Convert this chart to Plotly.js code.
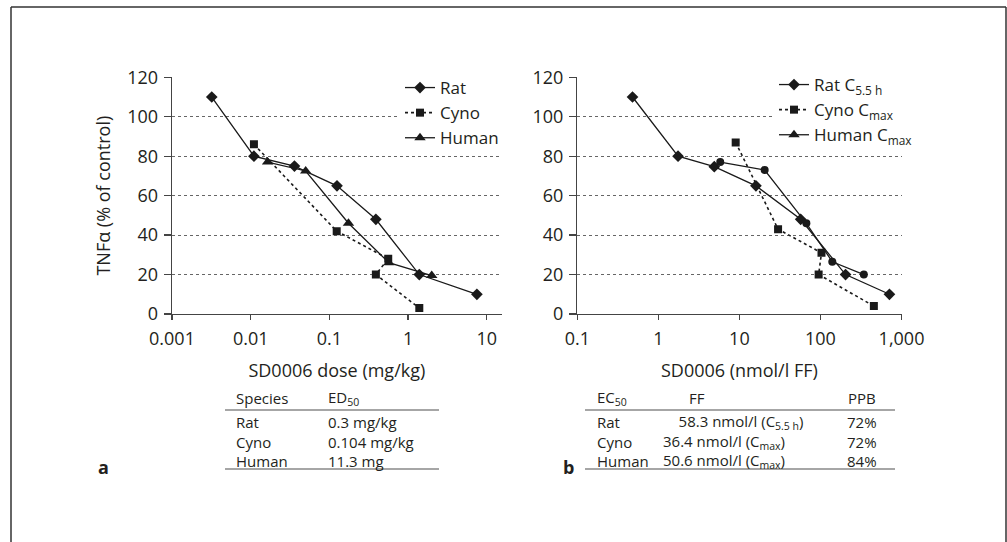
<!DOCTYPE html>
<html>
<head>
<meta charset="utf-8">
<script src="https://cdn.plot.ly/plotly-3.0.1.min.js"></script>
<style>html,body{margin:0;padding:0;background:#fff;}#chart{width:1007px;height:542px;}</style>
</head>
<body>
<div id="chart"></div>
<script>
// ---- Panel a data: TNFα (% of control) vs SD0006 dose (mg/kg)
var ratDoseA   = [0.0032, 0.011, 0.036, 0.125, 0.39, 1.39, 7.5];
var ratTnfA    = [110, 80, 75, 65, 48, 20, 10];
var cynoDoseA  = [0.011, 0.124, 0.56, 0.39, 1.39];
var cynoTnfA   = [86, 42, 28, 20, 3];
var humanDoseA = [0.0164, 0.05, 0.175, 0.57, 2.0];
var humanTnfA  = [77, 72.5, 46, 26, 19.5];

// ---- Panel b data: TNFα (% of control) vs SD0006 (nmol/l FF)
var ratConcB   = [0.48, 1.75, 4.9, 16, 57, 204, 710];
var ratTnfB    = [110, 80, 74.7, 65, 48, 20, 10];
var cynoConcB  = [9, 30, 103, 95, 456];
var cynoTnfB   = [87, 43, 31, 20, 4];
var humanConcB = [5.8, 20.5, 67, 140, 343];
var humanTnfB  = [77, 73, 46, 26.5, 20];

// ---- Tick labels
var tickValsA = [0.001, 0.01, 0.1, 1, 10];
var tickTextA = ['0.001', '0.01', '0.1', '1', '10'];
var tickValsB = [0.1, 1, 10, 100, 1000];
var tickTextB = ['0.1', '1', '10', '100', '1,000'];

// ---- Legend names
var namesA = ['Rat', 'Cyno', 'Human'];
var namesB = ['Rat C<sub>5.5 h</sub>', 'Cyno C<sub>max</sub>', 'Human C<sub>max</sub>'];

// ---- Tables
var tableAHeader = ['Species', 'ED<sub>50</sub>'];
var tableASpecies = ['Rat', 'Cyno', 'Human'];
var tableAED50 = ['0.3 mg/kg', '0.104 mg/kg', '11.3 mg'];
var tableBHeader = ['EC<sub>50</sub>', 'FF', 'PPB'];
var tableBSpecies = ['Rat', 'Cyno', 'Human'];
var tableBFF = ['&nbsp;&nbsp;&nbsp;&nbsp;58.3 nmol/l (C<sub>5.5 h</sub>)', '36.4 nmol/l (C<sub>max</sub>)', '50.6 nmol/l (C<sub>max</sub>)'];
var tableBPPB = ['72%', '72%', '84%'];

var W = 1007, H = 542;
function px(x){ return x / W; }
function py(y){ return 1 - y / H; }

var INK = '#231f20';
var FONT = 'Open Sans';
var FS = 18;
var lineCol = '#1a1a1a';

function tr(x, y, name, sym, size, dash, xa, ya, leg, showleg){
  return {
    x: x, y: y, name: name, type: 'scatter', mode: 'lines+markers',
    xaxis: xa, yaxis: ya, legend: leg,
    showlegend: showleg,
    line: {color: lineCol, width: dash === 'dot' ? 1.6 : 1.3, dash: dash},
    marker: {symbol: sym, size: size, color: lineCol}
  };
}

var data = [
  tr(ratDoseA, ratTnfA, namesA[0], 'diamond', 9, 'solid', 'x', 'y', 'legend', true),
  tr(cynoDoseA, cynoTnfA, namesA[1], 'square', 8, 'dot', 'x', 'y', 'legend', true),
  tr(humanDoseA, humanTnfA, namesA[2], 'triangle-up', 10, 'solid', 'x', 'y', 'legend', true),
  tr(ratConcB, ratTnfB, namesB[0], 'diamond', 9, 'solid', 'x2', 'y2', 'legend2', true),
  tr(cynoConcB, cynoTnfB, namesB[1], 'square', 8, 'dot', 'x2', 'y2', 'legend2', true),
  tr(humanConcB, humanTnfB, namesB[2], 'circle', 8, 'solid', 'x2', 'y2', 'legend2', false),
  // legend entry for Human Cmax (legend shows a triangle)
  tr([null], [null], namesB[2], 'triangle-up', 10, 'solid', 'x2', 'y2', 'legend2', true)
];

function xAxis(vals, text, domain, range, anchor){
  return {
    type: 'log', range: range, domain: domain, anchor: anchor,
    tickvals: vals, ticktext: text,
    showline: true, linecolor: '#444', linewidth: 1.3,
    ticks: 'outside', ticklen: 5, tickwidth: 1.3, tickcolor: '#444',
    ticklabelstandoff: 3,
    showgrid: false, zeroline: false,
    tickfont: {family: FONT, size: FS, color: INK}
  };
}
function yAxis(domain, anchor){
  return {
    range: [0, 120], domain: domain, anchor: anchor,
    tickvals: [0, 20, 40, 60, 80, 100, 120],
    showline: true, linecolor: '#444', linewidth: 1.3,
    ticks: 'outside', ticklen: 7, tickwidth: 1.3, tickcolor: '#444',
    ticklabelstandoff: 2,
    showgrid: true, gridcolor: '#555', griddash: 'dot', gridwidth: 0.9,
    zeroline: false,
    tickfont: {family: FONT, size: FS, color: INK}
  };
}

var yDom = [py(314), py(77.3)];
var legFont = {family: FONT, size: 17, color: INK};
var layout = {
  width: W, height: H,
  margin: {l: 0, r: 0, t: 0, b: 0},
  paper_bgcolor: '#fff', plot_bgcolor: 'rgba(0,0,0,0)',
  font: {family: FONT, size: FS, color: INK},
  xaxis: Object.assign(xAxis(tickValsA, tickTextA, [px(172), px(501.7)], [-3, Math.log10(15.5)], 'y'), {
    title: {text: 'SD0006 dose (mg/kg)', font: {family: FONT, size: FS, color: INK}, standoff: 15}
  }),
  yaxis: Object.assign(yAxis(yDom, 'x'), {
    title: {text: 'TNFα (% of control)', font: {family: FONT, size: FS, color: INK}, standoff: 12}
  }),
  xaxis2: Object.assign(xAxis(tickValsB, tickTextB, [px(577.3), px(901.5)], [-1, 3], 'y2'), {
    title: {text: 'SD0006 (nmol/l FF)', font: {family: FONT, size: FS, color: INK}, standoff: 15}
  }),
  yaxis2: yAxis(yDom, 'x2'),
  legend: {
    x: px(400), y: py(70), xanchor: 'left', yanchor: 'top',
    bgcolor: '#fff', borderwidth: 0, tracegroupgap: 0,
    font: legFont
  },
  legend2: {
    x: px(774), y: py(67), xanchor: 'left', yanchor: 'top',
    bgcolor: '#fff', borderwidth: 0, tracegroupgap: 0,
    font: legFont
  },
  shapes: [],
  annotations: []
};

// frame
var frameCol = '#333';
layout.shapes.push({type: 'line', xref: 'paper', yref: 'paper', x0: px(11), x1: px(11), y0: py(7), y1: py(542), line: {color: frameCol, width: 1.5}});
layout.shapes.push({type: 'line', xref: 'paper', yref: 'paper', x0: px(11), x1: px(1006), y0: py(7), y1: py(7), line: {color: frameCol, width: 1.5}});
layout.shapes.push({type: 'line', xref: 'paper', yref: 'paper', x0: px(1006), x1: px(1006), y0: py(7), y1: py(542), line: {color: frameCol, width: 1.5}});

// table rules
var ruleCol = '#888';
function hrule(x0, x1, y){
  layout.shapes.push({type: 'line', xref: 'paper', yref: 'paper', x0: px(x0), x1: px(x1), y0: py(y), y1: py(y), line: {color: ruleCol, width: 1.6}});
}
hrule(225, 439, 410); hrule(225, 439, 469);
hrule(585, 895, 410); hrule(585, 895, 469);

var TFS = 15;
function txt(s, x, y, opts){
  layout.annotations.push(Object.assign({
    text: s, xref: 'paper', yref: 'paper', x: px(x), y: py(y),
    xanchor: 'left', yanchor: 'middle', align: 'left', showarrow: false, borderpad: 0,
    font: {family: FONT, size: TFS, color: INK}
  }, opts || {}));
}
var headY = 398, bodyY = 441.5;
// table a
txt(tableAHeader[0], 235, headY);
txt(tableAHeader[1], 327, headY);
txt(tableASpecies.join('<br>'), 235, bodyY);
txt(tableAED50.join('<br>'), 327, bodyY);
// table b
txt(tableBHeader[0], 596, headY);
txt(tableBHeader[1], 688, headY);
txt(tableBHeader[2], 847, headY);
txt(tableBSpecies.join('<br>'), 596, bodyY);
txt(tableBFF.join('<br>'), 662, bodyY);
txt(tableBPPB.join('<br>'), 846, bodyY);
// panel letters
txt('<b>a</b>', 103, 467, {xanchor: 'center', font: {family: FONT, size: 18, color: INK}});
txt('<b>b</b>', 568, 467, {xanchor: 'center', font: {family: FONT, size: 18, color: INK}});

Plotly.newPlot('chart', data, layout, {staticPlot: true, displayModeBar: false});
</script>
</body>
</html>
